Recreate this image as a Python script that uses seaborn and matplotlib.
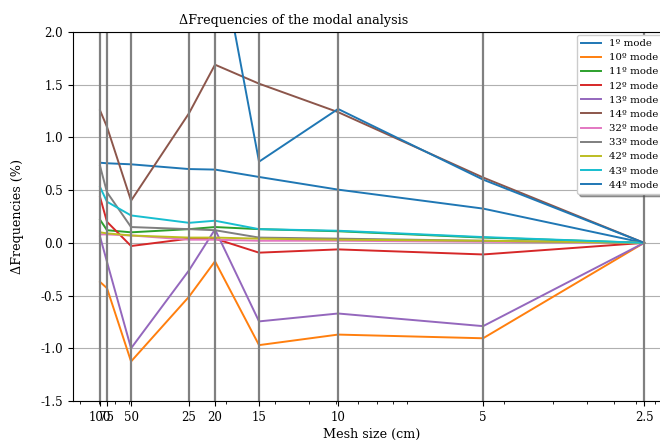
import numpy as np
import pandas as pd
import matplotlib
matplotlib.use("Agg")
import matplotlib.pyplot as plt
import seaborn as sns

# Mesh sizes (cm) and the model size used as abscissa (log scale)
mesh_labels = ["100", "75", "50", "25", "20", "15", "10", "5", "2.5"]
n_elements = [70.6, 74.8, 91.3, 147.6, 183.0, 263.5, 507.0, 1685.0, 6394.0]

modes = ["1º mode", "10º mode", "11º mode", "12º mode", "13º mode", "14º mode",
         "32º mode", "33º mode", "42º mode", "43º mode", "44º mode"]

mode_1 = [0.76, 0.755, 0.745, 0.70, 0.695, 0.625, 0.505, 0.325, 0.0]
mode_10 = [-0.37, -0.43, -1.125, -0.51, -0.175, -0.97, -0.87, -0.905, 0.0]
mode_11 = [0.22, 0.12, 0.10, 0.13, 0.15, 0.13, 0.11, 0.05, 0.0]
mode_12 = [0.435, 0.20, -0.03, 0.04, 0.04, -0.093, -0.062, -0.11, 0.0]
mode_13 = [0.06, -0.18, -1.0, -0.26, 0.128, -0.745, -0.67, -0.79, 0.0]
mode_14 = [1.257, 1.10, 0.40, 1.23, 1.69, 1.51, 1.24, 0.62, 0.0]
mode_32 = [0.08, 0.08, 0.07, 0.03, 0.03, 0.02, 0.02, 0.01, 0.0]
mode_33 = [0.73, 0.48, 0.15, 0.13, 0.12, 0.05, 0.04, 0.02, 0.0]
mode_42 = [0.10, 0.09, 0.07, 0.05, 0.05, 0.04, 0.03, 0.02, 0.0]
mode_43 = [0.53, 0.39, 0.26, 0.19, 0.21, 0.13, 0.115, 0.055, 0.0]
mode_44 = [3.6, 3.5, 3.3, 3.1, 3.0, 0.77, 1.27, 0.60, 0.0]

series = [mode_1, mode_10, mode_11, mode_12, mode_13, mode_14,
          mode_32, mode_33, mode_42, mode_43, mode_44]

rows = []
for name, vals in zip(modes, series):
    for x, v in zip(n_elements, vals):
        rows.append({"x": x, "value": v, "mode": name})
df = pd.DataFrame(rows)

plt.rcParams["font.family"] = ["DejaVu Serif"]
plt.rcParams["axes.unicode_minus"] = False

fig = plt.figure(figsize=(6.6, 4.43), dpi=100)
ax = fig.add_axes([72.8 / 660, 42 / 443, 598.5 / 660, 369 / 443])

tab10 = sns.color_palette("tab10", 10)
palette = {m: tab10[i % 10] for i, m in enumerate(modes)}

sns.lineplot(data=df, x="x", y="value", hue="mode", hue_order=modes,
             palette=palette, errorbar=None, linewidth=1.4, ax=ax, zorder=2)

ax.set_xscale("log")
ax.set_ylim(-1.5, 2.0)
ax.set_xticks(n_elements)
ax.set_xticklabels(mesh_labels)
ax.set_yticks(np.arange(-1.5, 2.01, 0.5))
ax.grid(axis="y", color="#b0b0b0", linewidth=0.8)
ax.set_axisbelow(True)
for x in n_elements:
    ax.axvline(x, color="0.5", linewidth=1.6, zorder=2.5)

ax.tick_params(labelsize=8.5)
ax.set_xlabel("Mesh size (cm)", fontsize=9.2, labelpad=3)
ax.set_ylabel("ΔFrequencies (%)", fontsize=9.2)
ax.yaxis.set_label_coords(-0.082, 0.5)
ax.set_title("ΔFrequencies of the modal analysis", fontsize=9.2,
             x=(294 - 72.8) / 598.5)

leg = ax.legend(loc="upper left", bbox_to_anchor=(577 / 660, 1 - 35 / 443),
                bbox_transform=fig.transFigure, borderaxespad=0,
                fontsize=7.3, frameon=True, shadow=True)
leg.set_title(None)

fig.savefig("out.png", dpi=100)
